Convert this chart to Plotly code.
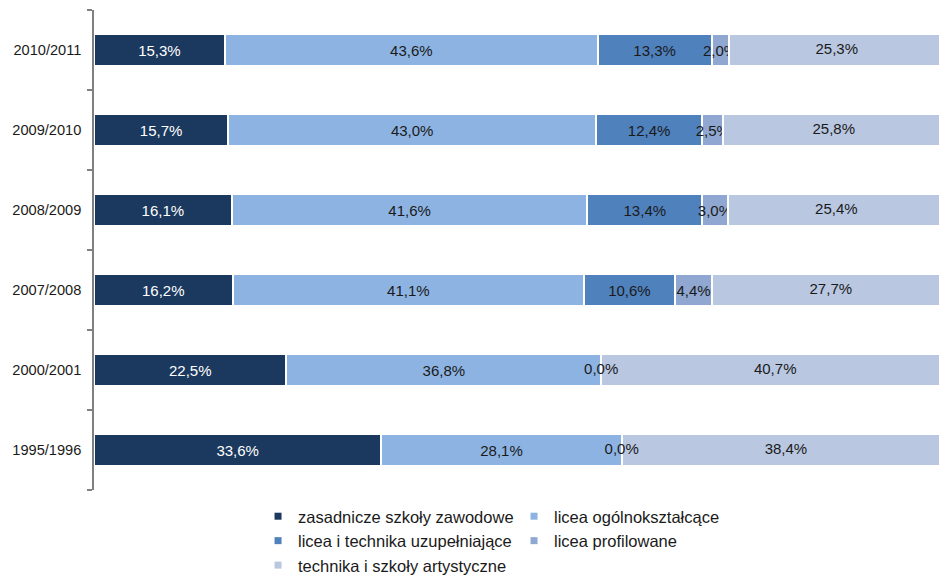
import plotly.graph_objects as go

categories = ['1995/1996', '2000/2001', '2007/2008', '2008/2009', '2009/2010', '2010/2011']

zasadnicze = [33.6, 22.5, 16.2, 16.1, 15.7, 15.3]
licea_ogolne = [28.1, 36.8, 41.1, 41.6, 43.0, 43.6]
licea_uzup = [0.0, 0.0, 10.6, 13.4, 12.4, 13.3]
licea_prof = [None, None, 4.4, 3.0, 2.5, 2.0]
technika = [38.4, 40.7, 27.7, 25.4, 25.8, 25.3]

series = [
    ('zasadnicze szkoły zawodowe', zasadnicze, '#1B395E', 'white', 'legend'),
    ('licea ogólnokształcące', licea_ogolne, '#8DB3E2', '#1a1a1a', 'legend2'),
    ('licea i technika uzupełniające', licea_uzup, '#4F81BD', '#1a1a1a', 'legend'),
    ('licea profilowane', licea_prof, '#8FA7D1', '#1a1a1a', 'legend2'),
    ('technika i szkoły artystyczne', technika, '#B9C7E1', '#1a1a1a', 'legend'),
]

FONT = 'Liberation Sans, Arial, sans-serif'
LABEL_SIZE = 15


def fmt(v):
    if v is None:
        return ''
    return f'{v:.1f}'.replace('.', ',') + '%'


fig = go.Figure()
for name, vals, color, tcolor, leg in series:
    show_text = name != 'technika i szkoły artystyczne'
    fig.add_trace(go.Bar(
        y=categories, x=vals, name=name, orientation='h',
        marker=dict(color=color, line=dict(color='white', width=2)),
        text=[fmt(v) if (show_text and v is not None and v > 0) else '' for v in vals],
        textposition='inside', insidetextanchor='middle', constraintext='none',
        textangle=0,
        textfont=dict(family=FONT, size=LABEL_SIZE, color=tcolor),
        showlegend=False, hoverinfo='skip',
    ))

# labels drawn as text marks: zero-width segments and the right-most (clipped) segments
lab_x, lab_y, lab_t = [], [], []
for i, c in enumerate(categories):
    before = zasadnicze[i] + licea_ogolne[i]
    if licea_uzup[i] == 0:
        lab_x.append(before)
        lab_y.append(c)
        lab_t.append(fmt(licea_uzup[i]))
    start = before + (licea_uzup[i] or 0) + (licea_prof[i] or 0)
    lab_x.append(start + technika[i] / 2)
    lab_y.append(c)
    lab_t.append(fmt(technika[i]))
fig.add_trace(go.Scatter(
    x=lab_x, y=lab_y, text=lab_t, mode='text', showlegend=False,
    textfont=dict(family=FONT, size=LABEL_SIZE, color='#1a1a1a'), cliponaxis=False,
    hoverinfo='skip',
))

# legend entries with small square swatches (no marks on the plot)
for name, vals, color, tcolor, leg in series:
    fig.add_trace(go.Scatter(
        x=[None], y=[None], mode='markers', name=name,
        marker=dict(symbol='square', size=7, color=color),
        legend=leg, hoverinfo='skip',
    ))

fig.update_layout(
    width=939, height=575,
    margin=dict(l=94, r=0, t=10, b=85, autoexpand=False),
    barmode='stack', bargap=0.61,
    plot_bgcolor='white', paper_bgcolor='white',
    font=dict(family=FONT, color='#1a1a1a'),
    xaxis=dict(visible=False, range=[0, 98.8], automargin=False),
    yaxis=dict(
        type='category', categoryorder='array', categoryarray=categories,
        showline=True, linecolor='#808080', linewidth=1.5,
        ticks='outside', ticklen=5, tickcolor='#808080', tickwidth=1.5,
        tickson='boundaries', showgrid=False, automargin=False,
        ticklabelstandoff=8,
        tickfont=dict(family=FONT, size=14.6, color='#1a1a1a'),
    ),
    legend=dict(xref='container', yref='container', x=0.2748, y=0.1322,
                xanchor='left', yanchor='top',
                traceorder='normal', bgcolor='rgba(0,0,0,0)',
                font=dict(family=FONT, size=16.5, color='#1a1a1a')),
    legend2=dict(xref='container', yref='container', x=0.5474, y=0.1322,
                 xanchor='left', yanchor='top',
                 traceorder='normal', bgcolor='rgba(0,0,0,0)',
                 font=dict(family=FONT, size=16.5, color='#1a1a1a')),
)

fig.write_html('out.html',
               config={'displayModeBar': False},
               post_script="document.body.style.margin='0';document.body.style.overflow='hidden';")
